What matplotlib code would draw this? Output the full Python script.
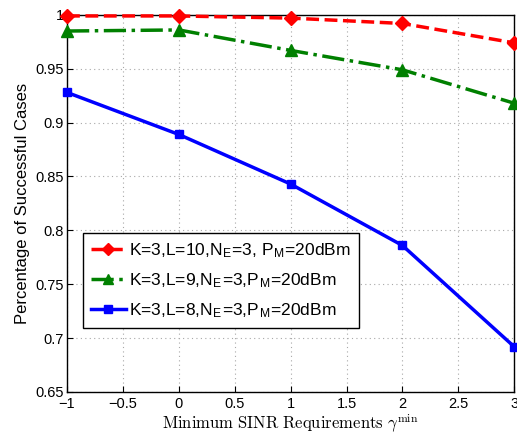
import numpy as np
import matplotlib.pyplot as plt

plt.rcParams['font.family'] = ['Liberation Sans', 'DejaVu Sans']
plt.rcParams['mathtext.fontset'] = 'cm'

# data
gamma = [-1, 0, 1, 2, 3]
succ_L10 = [0.999, 0.999, 0.997, 0.992, 0.974]
succ_L9 = [0.985, 0.986, 0.967, 0.949, 0.918]
succ_L8 = [0.928, 0.889, 0.843, 0.786, 0.692]

lab_L10 = r'K=3,L=10,N$_\mathregular{E}$=3, P$_\mathregular{M}$=20dBm'
lab_L9 = r'K=3,L=9,N$_\mathregular{E}$=3,P$_\mathregular{M}$=20dBm'
lab_L8 = r'K=3,L=8,N$_\mathregular{E}$=3,P$_\mathregular{M}$=20dBm'

fig = plt.figure(figsize=(5.17, 4.37), dpi=100)
ax = fig.add_axes([0.1296, 0.103, 0.865, 0.863])

ax.plot(gamma, succ_L10, color='red', linestyle='--', linewidth=2.5, marker='D',
        markersize=7, label=lab_L10, clip_on=False, zorder=5)
ax.plot(gamma, succ_L9, color='green', linestyle='-.', linewidth=2.5, marker='^',
        markersize=8, label=lab_L9, clip_on=False, zorder=4)
ax.plot(gamma, succ_L8, color='blue', linestyle='-', linewidth=2.5, marker='s',
        markersize=6, label=lab_L8, clip_on=False, zorder=3)

ax.set_xlim(-1, 3)
ax.set_ylim(0.65, 1.0)
ax.set_xticks(np.arange(-1, 3.01, 0.5))
ax.set_xticklabels(['\u22121', '\u22120.5', '0', '0.5', '1', '1.5', '2', '2.5', '3'])
ax.set_yticks(np.arange(0.65, 1.001, 0.05))
ax.set_yticklabels(['0.65', '0.7', '0.75', '0.8', '0.85', '0.9', '0.95', '1'])
ax.tick_params(direction='in', labelsize=10.5, length=4, width=0.8, pad=2)
ax.tick_params(axis='x', pad=3.5)
ax.grid(True, linestyle=(0, (1, 3)), color='#a8a8a8', linewidth=0.8)
for s in ax.spines.values():
    s.set_linewidth(1.0)

ax.set_xlabel(r'$\mathrm{Minimum\ SINR\ Requirements}\ \gamma^{\min}$', fontsize=12, labelpad=1)
ax.set_ylabel('Percentage of Successful Cases', fontsize=12)

leg = ax.legend(loc='lower left', bbox_to_anchor=(0.036, 0.17), borderaxespad=0,
                fontsize=12.5, fancybox=False, edgecolor='black', framealpha=1,
                handlelength=2.0, handletextpad=0.2, borderpad=0.45, labelspacing=0.65,
                markerscale=0.85)
leg.get_frame().set_linewidth(1.0)

fig.savefig('out.png', dpi=100)
